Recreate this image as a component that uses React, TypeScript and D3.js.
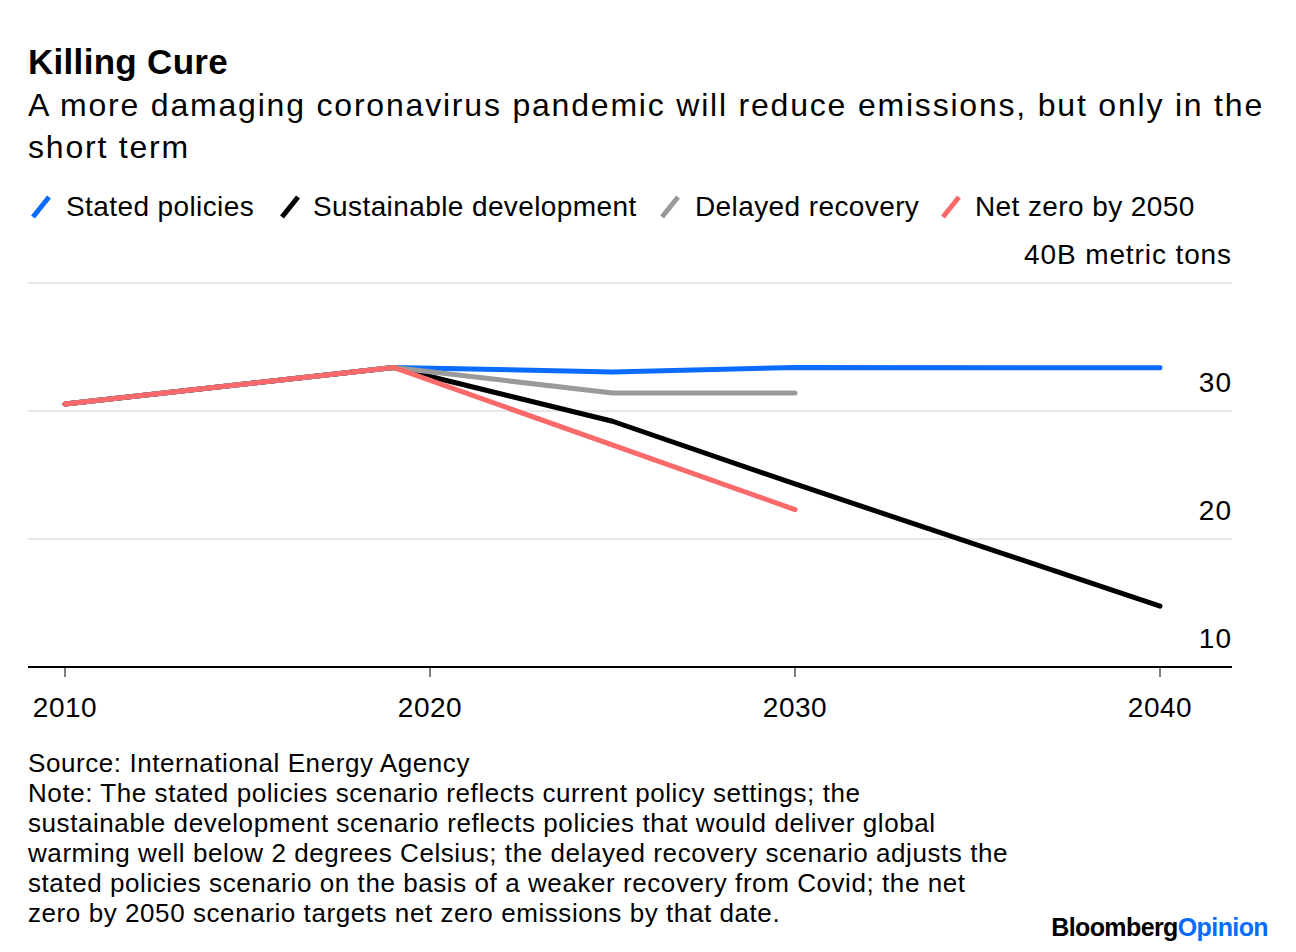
import React from "react";
import * as d3 from "d3";

const histYears = [2010, 2019];
const histValues = [30.55, 33.4];

const statedYears = [2025, 2030, 2040];
const statedValues = [33.05, 33.4, 33.38];
const sustainableYears = [2025, 2030, 2040];
const sustainableValues = [29.2, 24.3, 14.75];
const delayedYears = [2025, 2030];
const delayedValues = [31.4, 31.4];
const netZeroYears = [2030];
const netZeroValues = [22.3];

const seriesNames = ["Stated policies", "Sustainable development", "Delayed recovery", "Net zero by 2050"];
const seriesColors = ["#0a6cff", "#000000", "#9a9a9a", "#fb6a6a"];

const xTicks = [2010, 2020, 2030, 2040];
const yTicks = [10, 20, 30, 40];

const noteLines = [
  "Source: International Energy Agency",
  "Note: The stated policies scenario reflects current policy settings; the",
  "sustainable development scenario reflects policies that would deliver global",
  "warming well below 2 degrees Celsius; the delayed recovery scenario adjusts the",
  "stated policies scenario on the basis of a weaker recovery from Covid; the net",
  "zero by 2050 scenario targets net zero emissions by that date.",
];

const FONT = "'Liberation Sans', Arial, Helvetica, sans-serif";

export default function App() {
  const W = 1296, H = 952;
  const x = d3.scaleLinear().domain([2010, 2040]).range([65, 1160]);
  const y = d3.scaleLinear().domain([10, 40]).range([667, 283]);
  const plotLeft = 28, plotRight = 1232;

  const build = (yrs: number[], vals: number[]) => {
    const pts: [number, number][] = histYears.map((yr, i) => [yr, histValues[i]]);
    yrs.forEach((yr, i) => pts.push([yr, vals[i]]));
    return pts;
  };
  const series = [
    build(statedYears, statedValues),
    build(sustainableYears, sustainableValues),
    build(delayedYears, delayedValues),
    build(netZeroYears, netZeroValues),
  ];
  const line = d3.line<[number, number]>().x(d => x(d[0])).y(d => y(d[1]));

  const legendX = [30, 279, 659, 940];
  const legendTextX = [66, 313, 695, 975];

  return (
    <svg width={W} height={H} style={{ display: "block", position: "absolute", left: 0, top: 0 }} fontFamily={FONT}>
      <rect width={W} height={H} fill="#fff" />
      <text x={28} y={74} fontSize={35} fontWeight="bold" fill="#000" letterSpacing={0.3}>Killing Cure</text>
      <text x={28} y={116} fontSize={32} fill="#000" letterSpacing={1.8}>A more damaging coronavirus pandemic will reduce emissions, but only in the</text>
      <text x={28} y={158} fontSize={32} fill="#000" letterSpacing={1.8}>short term</text>

      {seriesNames.map((n, i) => (
        <g key={n}>
          <line x1={legendX[i] + 3} y1={217} x2={legendX[i] + 19} y2={197} stroke={seriesColors[i]} strokeWidth={5} />
          <text x={legendTextX[i]} y={216} fontSize={28} fill="#000" letterSpacing={0.4}>{n}</text>
        </g>
      ))}

      {yTicks.map(t => (
        <g key={t}>
          {t !== 10 && <line x1={plotLeft} x2={plotRight} y1={y(t)} y2={y(t)} stroke="#e8e8e8" strokeWidth={2} />}
          <text x={plotRight} y={y(t) - 19} fontSize={28} textAnchor="end" fill="#000" letterSpacing={t === 40 ? 0.9 : 1}>
            {t === 40 ? "40B metric tons" : t}
          </text>
        </g>
      ))}

      {series.map((s, i) => (
        <path key={i} d={line(s) || ""} fill="none" stroke={seriesColors[i]} strokeWidth={5} strokeLinecap="round" strokeLinejoin="round" />
      ))}

      <line x1={plotLeft} x2={plotRight} y1={y(10)} y2={y(10)} stroke="#000" strokeWidth={2} />
      {xTicks.map(t => (
        <g key={t}>
          <line x1={x(t)} x2={x(t)} y1={y(10)} y2={y(10) + 10} stroke="#000" strokeWidth={1} />
          <text x={x(t)} y={717} fontSize={28} textAnchor="middle" fill="#000" letterSpacing={0.5}>{t}</text>
        </g>
      ))}

      {noteLines.map((l, i) => (
        <text key={i} x={28} y={772 + i * 30} fontSize={26} fill="#000" letterSpacing={0.57}>{l}</text>
      ))}

      <text x={1268} y={936} fontSize={25} fontWeight="bold" textAnchor="end" letterSpacing={-0.6}>
        <tspan fill="#000">Bloomberg</tspan>
        <tspan fill="#0a6cff">Opinion</tspan>
      </text>
    </svg>
  );
}
